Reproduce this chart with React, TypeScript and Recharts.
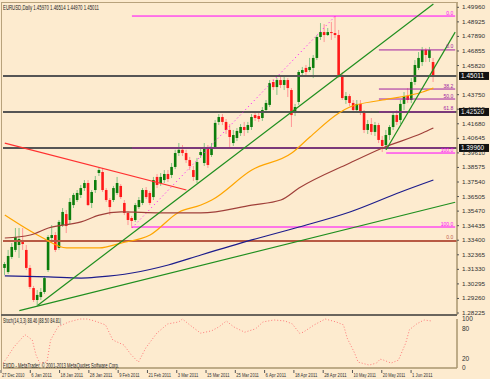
import { Bar, ComposedChart, Line, ReferenceLine, ReferenceDot, XAxis, YAxis } from "recharts";

// daily candles, [open, high, low, close]
const ohlc: [number, number, number, number][] = [
  [1.3143, 1.3185, 1.3093, 1.3171],
  [1.3114, 1.3271, 1.31, 1.3228],
  [1.3221, 1.332, 1.3207, 1.3292],
  [1.3271, 1.3427, 1.3256, 1.3363],
  [1.3306, 1.3427, 1.3214, 1.3349],
  [1.3327, 1.3427, 1.3271, 1.3313],
  [1.3271, 1.3306, 1.3128, 1.3143],
  [1.3143, 1.3164, 1.2993, 1.3008],
  [1.3, 1.3015, 1.2901, 1.2915],
  [1.2915, 1.2986, 1.2872, 1.2951],
  [1.2936, 1.3, 1.2915, 1.2972],
  [1.2972, 1.3086, 1.2958, 1.3071],
  [1.3128, 1.3377, 1.3114, 1.3363],
  [1.3356, 1.3448, 1.3342, 1.3377],
  [1.3377, 1.3398, 1.3256, 1.3271],
  [1.3285, 1.3484, 1.3271, 1.347],
  [1.3448, 1.3569, 1.3434, 1.3541],
  [1.3526, 1.3555, 1.3391, 1.3441],
  [1.3484, 1.364, 1.3455, 1.3612],
  [1.359, 1.3676, 1.3569, 1.3662],
  [1.3626, 1.3697, 1.3612, 1.3676],
  [1.3662, 1.3733, 1.364, 1.3711],
  [1.3711, 1.3768, 1.369, 1.3747],
  [1.3747, 1.3768, 1.3583, 1.359],
  [1.3605, 1.3697, 1.3569, 1.3683],
  [1.3697, 1.3797, 1.3676, 1.3768],
  [1.3818, 1.3854, 1.3797, 1.3839],
  [1.3825, 1.3854, 1.3683, 1.3697],
  [1.3697, 1.3711, 1.3612, 1.3626],
  [1.3626, 1.364, 1.3519, 1.3576],
  [1.3626, 1.3726, 1.3612, 1.3711],
  [1.3676, 1.379, 1.3662, 1.3747],
  [1.3726, 1.374, 1.3633, 1.3647],
  [1.3605, 1.3626, 1.3519, 1.3534],
  [1.3534, 1.3548, 1.3448, 1.3484],
  [1.3498, 1.3512, 1.3427, 1.3477],
  [1.3484, 1.3605, 1.347, 1.359],
  [1.3576, 1.3647, 1.3562, 1.3626],
  [1.3605, 1.3711, 1.359, 1.3697],
  [1.3697, 1.3718, 1.3633, 1.3647],
  [1.3676, 1.369, 1.359, 1.3605],
  [1.3647, 1.379, 1.3626, 1.3768],
  [1.379, 1.3811, 1.3711, 1.3733],
  [1.3747, 1.3818, 1.3726, 1.379],
  [1.3768, 1.3839, 1.3747, 1.3811],
  [1.3811, 1.3839, 1.3754, 1.3775],
  [1.3804, 1.3889, 1.3782, 1.3861],
  [1.3861, 1.3983, 1.3846, 1.396],
  [1.396, 1.4031, 1.3939, 1.3983],
  [1.3983, 1.4017, 1.3939, 1.396],
  [1.396, 1.3983, 1.3889, 1.391],
  [1.391, 1.3932, 1.3839, 1.3868],
  [1.3839, 1.3868, 1.3761, 1.379],
  [1.3768, 1.3925, 1.3747, 1.3896],
  [1.3946, 1.3996, 1.3925, 1.3967],
  [1.3889, 1.4031, 1.3868, 1.4003],
  [1.4003, 1.4017, 1.3854, 1.3875],
  [1.3946, 1.4031, 1.3932, 1.4003],
  [1.4003, 1.4195, 1.3989, 1.4174],
  [1.4181, 1.4237, 1.4159, 1.4216],
  [1.4216, 1.4237, 1.4159, 1.4181],
  [1.4181, 1.4202, 1.4095, 1.4124],
  [1.4124, 1.4166, 1.4003, 1.4074],
  [1.4031, 1.4124, 1.401, 1.4088],
  [1.4067, 1.4138, 1.4045, 1.4117],
  [1.4102, 1.4166, 1.4081, 1.4145],
  [1.4145, 1.4181, 1.4081, 1.4124],
  [1.4124, 1.4181, 1.4102, 1.4159],
  [1.4145, 1.4237, 1.4124, 1.4216],
  [1.423, 1.4252, 1.4188, 1.4209],
  [1.4223, 1.4245, 1.4181, 1.4202],
  [1.4209, 1.4287, 1.4188, 1.4266],
  [1.4266, 1.4337, 1.4245, 1.4316],
  [1.4302, 1.4479, 1.4287, 1.4458],
  [1.4465, 1.4486, 1.4408, 1.4429],
  [1.4429, 1.4493, 1.4373, 1.4479],
  [1.4479, 1.4501, 1.4422, 1.4444],
  [1.4444, 1.4501, 1.4408, 1.4479],
  [1.4479, 1.4493, 1.4358, 1.4422],
  [1.4408, 1.4422, 1.4145, 1.423],
  [1.4245, 1.4309, 1.4223, 1.4287],
  [1.4323, 1.455, 1.4302, 1.4536],
  [1.4529, 1.4572, 1.4508, 1.455],
  [1.4565, 1.4586, 1.4515, 1.4536],
  [1.455, 1.4636, 1.4536, 1.4572],
  [1.4565, 1.4657, 1.4493, 1.4636],
  [1.4636, 1.4799, 1.4621, 1.4785],
  [1.4785, 1.4884, 1.4764, 1.482],
  [1.482, 1.4877, 1.4749, 1.4799],
  [1.4799, 1.4849, 1.4792, 1.482],
  [1.482, 1.4892, 1.4764, 1.4813],
  [1.4813, 1.4934, 1.4778, 1.4799],
  [1.4799, 1.4835, 1.4493, 1.4515],
  [1.4515, 1.4536, 1.4337, 1.4351],
  [1.4337, 1.4394, 1.4309, 1.4365],
  [1.4365, 1.438, 1.4294, 1.4316],
  [1.4316, 1.4337, 1.4245, 1.4266],
  [1.4266, 1.4337, 1.4252, 1.4309],
  [1.4309, 1.4337, 1.423, 1.4252],
  [1.4252, 1.4266, 1.4102, 1.4124],
  [1.4124, 1.4195, 1.4095, 1.4166],
  [1.4166, 1.4209, 1.4088, 1.411],
  [1.411, 1.4181, 1.4081, 1.4159],
  [1.4159, 1.4174, 1.4031, 1.4053],
  [1.4053, 1.4081, 1.3967, 1.401],
  [1.4017, 1.4124, 1.3983, 1.4088],
  [1.4088, 1.4159, 1.4053, 1.4145],
  [1.4145, 1.4252, 1.4124, 1.423],
  [1.423, 1.4266, 1.4159, 1.4181],
  [1.4195, 1.4337, 1.4166, 1.4309],
  [1.4309, 1.4394, 1.4266, 1.4365],
  [1.4365, 1.4422, 1.4316, 1.4337],
  [1.4337, 1.4493, 1.4316, 1.4465],
  [1.4465, 1.4621, 1.4444, 1.4586],
  [1.4565, 1.4678, 1.455, 1.4636],
  [1.4607, 1.4714, 1.4579, 1.4693],
  [1.4693, 1.4707, 1.4607, 1.4657],
  [1.4636, 1.4714, 1.4607, 1.4693],
  [1.4607, 1.4636, 1.4465, 1.4501],
];

// moving averages, [bar, price]
const maOrange: [number, number][] = [
  [0, 1.3519], [10, 1.3363], [17, 1.3285], [26, 1.3285], [32, 1.332], [40, 1.3377],
  [48, 1.3541], [54, 1.359], [57, 1.3626], [68, 1.3839], [79, 1.396], [84, 1.4074],
  [92, 1.4245], [95, 1.4287], [104, 1.4337], [115, 1.4394], [118, 1.4422],
];
const maBrown: [number, number][] = [
  [0, 1.3356], [7, 1.3377], [12, 1.3427], [21, 1.347], [26, 1.3519], [32, 1.3541],
  [43, 1.3534], [54, 1.3534], [68, 1.359], [76, 1.3626], [81, 1.3711], [95, 1.3889],
  [104, 1.3996], [115, 1.4102], [118, 1.4138],
];
const maNavy: [number, number][] = [
  [0, 1.3086], [12, 1.3079], [21, 1.3071], [26, 1.3079], [35, 1.3107], [45, 1.3164],
  [54, 1.3235], [68, 1.3342], [81, 1.3434], [95, 1.3541], [109, 1.3683], [118, 1.3768],
];

// stochastic signal, [bar, value]
const stoch: [number, number][] = [
  [0, 10], [1, 20], [3, 43], [6, 68], [8, 57], [9, 27], [10, 10], [12, 12], [13, 57],
  [15, 84], [18, 94], [21, 100], [23, 100], [25, 96], [28, 88], [30, 57], [33, 47],
  [35, 27], [37, 12], [39, 41], [42, 71], [45, 90], [48, 94], [49, 100], [51, 88],
  [54, 71], [57, 76], [59, 84], [61, 96], [63, 84], [66, 73], [69, 80], [71, 94],
  [74, 98], [77, 96], [79, 90], [81, 71], [82, 73], [85, 88], [88, 100], [91, 94],
  [93, 88], [94, 61], [96, 31], [97, 12], [100, 6], [102, 10], [103, 18], [104, 16],
  [106, 10], [108, 16], [110, 51], [111, 78], [113, 90], [115, 98], [117, 96],
];

const priceTicks = [
  1.4996, 1.48925, 1.4789, 1.46855, 1.4582, 1.4375, 1.42715, 1.4168, 1.40645,
  1.3961, 1.38575, 1.3754, 1.36505, 1.3547, 1.34435, 1.334, 1.32365, 1.3133, 1.30295,
  1.2926, 1.28225,
];
const dateTickBars = [0, 8, 16, 24, 32, 40, 48, 56, 64, 72, 80, 88, 96, 104, 112];
const dateLabels = [
  "27 Dec 2010", "6 Jan 2011", "18 Jan 2011", "28 Jan 2011", "9 Feb 2011", "21 Feb 2011",
  "3 Mar 2011", "15 Mar 2011", "25 Mar 2011", "6 Apr 2011", "18 Apr 2011", "28 Apr 2011",
  "10 May 2011", "20 May 2011", "1 Jun 2011",
];

const SLOTS = 125;
const rows: any[] = Array.from({ length: SLOTS }, (_, i) => {
  const k = ohlc[i];
  return k ? { i, o: k[0], h: k[1], l: k[2], c: k[3], range: [k[2], k[1]] } : { i };
});
maOrange.forEach(([i, v]) => (rows[i].ma50 = v));
maBrown.forEach(([i, v]) => (rows[i].ma100 = v));
maNavy.forEach(([i, v]) => (rows[i].ma200 = v));
stoch.forEach(([i, v]) => (rows[i].st = v));

const BG = "#FDEBCF";
const FONT = '"Liberation Sans", Arial, sans-serif';

function Candle(props: any) {
  const { x, y, width, height, payload } = props;
  if (!payload || payload.o == null) return null;
  const top = Math.min(y, y + height);
  const span = Math.abs(height);
  const { o, h, l, c } = payload;
  const k = h === l ? 0 : span / (h - l);
  const py = (p: number) => top + (h - p) * k;
  const cx = x + width / 2;
  const up = c >= o;
  const bTop = py(Math.max(o, c));
  const bH = Math.max(1, Math.abs(py(o) - py(c)));
  return (
    <g>
      <line x1={cx} x2={cx} y1={top} y2={top + span} stroke={up ? "#86c486" : "#ff9696"} strokeWidth={1} />
      <rect x={cx - 1.3} y={bTop} width={2.6} height={bH} fill={up ? "#0b7d0b" : "#ff1a1a"} />
    </g>
  );
}

function PriceTick(props: any) {
  const { x, y, payload } = props;
  return (
    <g>
      <line x1={x - 4} x2={x - 2} y1={y} y2={y} stroke="#555" />
      <text x={x + 1} y={y} dy={2} fontSize={5.5} fontFamily={FONT} fill="#333" textLength={23} lengthAdjust="spacingAndGlyphs">
        {Number(payload.value).toFixed(5)}
      </text>
    </g>
  );
}

function StochTick(props: any) {
  const { x, y, payload } = props;
  return (
    <text x={x + 1} y={y} dy={2.3} fontSize={6.5} fontFamily={FONT} fill="#333">
      {payload.value}
    </text>
  );
}

function DateTick(props: any) {
  const { x, y, payload } = props;
  const n = dateTickBars.indexOf(payload.value);
  const label = dateLabels[n] || "";
  return (
    <g>
      <line x1={x - 2} x2={x - 2} y1={y - 2} y2={y + 1} stroke="#555" />
      <text x={x - 1} y={y + 5} fontSize={5} fontFamily={FONT} fill="#333" textLength={label.length * 2.05} lengthAdjust="spacingAndGlyphs">
        {label}
      </text>
    </g>
  );
}

function Tag(props: any) {
  const { viewBox, text } = props;
  if (!viewBox) return null;
  const x = viewBox.x + viewBox.width + 2;
  return (
    <g>
      <rect x={x} y={viewBox.y - 4} width={30} height={8} fill="#111" />
      <text x={x + 2} y={viewBox.y + 2.3} fontSize={6.5} fontFamily={FONT} fill="#fff" textLength={23} lengthAdjust="spacingAndGlyphs">
        {text}
      </text>
    </g>
  );
}

function FibText(props: any) {
  const { viewBox, text, color } = props;
  if (!viewBox) return null;
  return (
    <text x={viewBox.x - 2} y={viewBox.y - 1.5} textAnchor="end" fontSize={5} fontFamily={FONT} fill={color}>
      {text}
    </text>
  );
}

const fibMarks: [number, string, string][] = [
  [1.4934, "0.0", "#ff00ff"],
  [1.4693, "0.0", "#a020a0"],
  [1.4415, "38.2", "#a020a0"],
  [1.4344, "50.0", "#a020a0"],
  [1.4252, "61.8", "#a020a0"],
  [1.396, "100.0", "#ff00ff"],
  [1.3434, "100.0", "#ff00ff"],
  [1.3335, "0.0", "#c0604a"],
];

export default function App() {
  return (
    <div style={{ position: "absolute", left: 0, top: 0, width: 490, height: 379, background: BG, overflow: "hidden", fontFamily: FONT }}>
      <div style={{ position: "absolute", left: 0, top: 0 }}>
        <ComposedChart width={490} height={318} data={rows} margin={{ top: 3, right: 0, left: 3, bottom: 3 }}>
          <XAxis dataKey="i" type="category" hide />
          <YAxis
            orientation="right"
            width={33}
            domain={[1.28084, 1.50267]}
            allowDataOverflow
            ticks={priceTicks}
            interval={0}
            tick={<PriceTick />}
            tickLine={false}
            tickSize={4}
            tickMargin={0}
            axisLine={{ stroke: "#a8966f", strokeWidth: 1.5 }}
          />
          <ReferenceLine y={1.4508} stroke="#555" strokeWidth={2} label={<Tag text="1.45011" />} />
          <ReferenceLine y={1.4252} stroke="#555" strokeWidth={2} label={<Tag text="1.42520" />} />
          <ReferenceLine y={1.3996} stroke="#555" strokeWidth={2} label={<Tag text="1.39960" />} />
          <ReferenceLine y={1.3335} stroke="#b85a44" strokeWidth={2} />
          <ReferenceLine segment={[{ x: 35, y: 1.4934 }, { x: 124, y: 1.4934 }]} stroke="#ff00ff" strokeWidth={1} />
          <ReferenceLine segment={[{ x: 35, y: 1.3434 }, { x: 124, y: 1.3434 }]} stroke="#ff00ff" strokeWidth={1} />
          <ReferenceLine segment={[{ x: 35, y: 1.3996 }, { x: 124, y: 1.3996 }]} stroke="#a020a0" strokeWidth={1} />
          <ReferenceLine segment={[{ x: 35, y: 1.3427 }, { x: 91, y: 1.4934 }]} stroke="#ff00ff" strokeDasharray="1 3" />
          <ReferenceLine segment={[{ x: 103, y: 1.4693 }, { x: 124, y: 1.4693 }]} stroke="#a020a0" />
          <ReferenceLine segment={[{ x: 103, y: 1.4415 }, { x: 124, y: 1.4415 }]} stroke="#a020a0" />
          <ReferenceLine segment={[{ x: 103, y: 1.4344 }, { x: 124, y: 1.4344 }]} stroke="#a020a0" />
          <ReferenceLine segment={[{ x: 103, y: 1.4252 }, { x: 124, y: 1.4252 }]} stroke="#a020a0" />
          <ReferenceLine segment={[{ x: 105, y: 1.396 }, { x: 124, y: 1.396 }]} stroke="#ff00ff" />
          <Bar dataKey="range" shape={<Candle />} barSize={3} isAnimationActive={false} />
          <Line dataKey="ma50" stroke="#ffa500" strokeWidth={1.2} dot={false} connectNulls type="monotone" isAnimationActive={false} />
          <Line dataKey="ma100" stroke="#a0403a" strokeWidth={1.2} dot={false} connectNulls type="monotone" isAnimationActive={false} />
          <Line dataKey="ma200" stroke="#1c1c8c" strokeWidth={1.2} dot={false} connectNulls type="monotone" isAnimationActive={false} />
          <ReferenceLine segment={[{ x: 9, y: 1.2876 }, { x: 118, y: 1.502 }]} stroke="#1f8f1f" strokeWidth={1.2} />
          <ReferenceLine segment={[{ x: 105, y: 1.3983 }, { x: 124, y: 1.482 }]} stroke="#1f8f1f" strokeWidth={1.2} />
          <ReferenceLine segment={[{ x: 4, y: 1.2839 }, { x: 124, y: 1.361 }]} stroke="#1f8f1f" strokeWidth={1.2} />
          <ReferenceLine segment={[{ x: 0, y: 1.403 }, { x: 50, y: 1.3697 }]} stroke="#ff3030" strokeWidth={1.2} />
          {fibMarks.map(([p, t, col]) => (
            <ReferenceDot key={t + p} x={124} y={p} r={0} label={<FibText text={t} color={col} />} />
          ))}
        </ComposedChart>
      </div>
      <div style={{ position: "absolute", left: 0, top: 315 }}>
        <ComposedChart width={490} height={64} data={rows} margin={{ top: 4, right: 0, left: 3, bottom: 0 }}>
          <XAxis
            dataKey="i"
            type="category"
            height={11}
            ticks={dateTickBars}
            interval={0}
            tick={<DateTick />}
            tickLine={false}
            tickSize={2}
            axisLine={{ stroke: "#a8966f", strokeWidth: 1.5 }}
          />
          <YAxis
            orientation="right"
            width={33}
            domain={[0, 100]}
            ticks={[0, 20, 80, 100]}
            interval={0}
            tick={<StochTick />}
            tickLine={false}
            tickSize={4}
            tickMargin={0}
            axisLine={{ stroke: "#a8966f", strokeWidth: 1.5 }}
          />
          <Line dataKey="st" stroke="#ff7a7a" strokeWidth={1} strokeDasharray="1 2" dot={false} connectNulls isAnimationActive={false} />
        </ComposedChart>
      </div>
      <div style={{ position: "absolute", left: 1, top: 2, width: 456, height: 367, borderLeft: "1px solid #b8a27c", borderTop: "1px solid #b8a27c", pointerEvents: "none" }} />
      <div style={{ position: "absolute", left: 1, top: 314, width: 456, height: 2, background: "#6a655d" }} />
      <svg width={490} height={379} style={{ position: "absolute", left: 0, top: 0, pointerEvents: "none" }}>
        <text x={3} y={10} fontSize={6.5} fontFamily={FONT} fill="#222" textLength={96} lengthAdjust="spacingAndGlyphs">
          EURUSD,Daily 1.45970 1.46514 1.44970 1.45011
        </text>
        <text x={3} y={323} fontSize={6.5} fontFamily={FONT} fill="#222" textLength={58} lengthAdjust="spacingAndGlyphs">
          Stoch(14,3,3) 88.46 |88.50 84.81|
        </text>
        <text x={3} y={368} fontSize={6.5} fontFamily={FONT} fill="#222" textLength={116} lengthAdjust="spacingAndGlyphs">
          FXDD - MetaTrader, © 2001-2013 MetaQuotes Software Corp.
        </text>
      </svg>
    </div>
  );
}
